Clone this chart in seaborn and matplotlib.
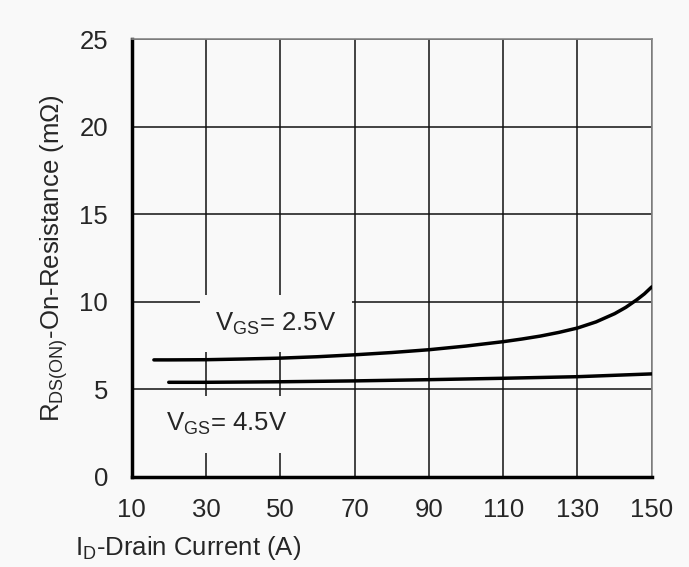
import matplotlib
matplotlib.use("Agg")
import matplotlib.pyplot as plt
import seaborn as sns
import pandas as pd

# Rds(on) vs drain current
id_25 = [16, 20, 30, 40, 50, 60, 70, 80, 90, 100, 110, 115, 120, 125, 130, 135, 140, 143, 146, 148, 150]
rds_25 = [6.68, 6.68, 6.69, 6.73, 6.78, 6.86, 6.97, 7.10, 7.26, 7.47, 7.72, 7.87, 8.04, 8.25, 8.50, 8.85,
          9.32, 9.68, 10.12, 10.45, 10.85]
id_45 = [20, 30, 50, 70, 90, 110, 130, 150]
rds_45 = [5.40, 5.40, 5.43, 5.48, 5.55, 5.63, 5.72, 5.88]

x_ticks = [10, 30, 50, 70, 90, 110, 130, 150]
y_ticks = [0, 5, 10, 15, 20, 25]

sns.set_style("white")
plt.rcParams["font.family"] = ["Liberation Sans", "DejaVu Sans"]
plt.rcParams["mathtext.default"] = "regular"

df = pd.concat([
    pd.DataFrame({"id": id_25, "rds": rds_25, "vgs": "2.5V"}),
    pd.DataFrame({"id": id_45, "rds": rds_45, "vgs": "4.5V"}),
])

bg = "#f9f9f9"
fs = 18.5
fig = plt.figure(figsize=(6.89, 5.67), dpi=100, facecolor=bg)
ax = fig.add_axes([0.191, 0.159, 0.755, 0.772])
ax.set_facecolor(bg)

sns.lineplot(data=df, x="id", y="rds", units="vgs", estimator=None,
             color="black", linewidth=2.5, ax=ax, legend=False, zorder=3)

ax.set_xlim(10, 150)
ax.set_ylim(0, 25)
ax.set_xticks(x_ticks)
ax.set_yticks(y_ticks)
ax.grid(True, color="#111111", linewidth=1.1)
ax.set_axisbelow(True)

for side in ["left", "bottom"]:
    ax.spines[side].set_linewidth(2.5)
    ax.spines[side].set_color("black")
for side in ["top", "right"]:
    ax.spines[side].set_linewidth(1.2)
    ax.spines[side].set_color("#888888")

ax.tick_params(axis="y", direction="in", length=6, width=2, pad=17, labelsize=fs)
ax.tick_params(axis="x", length=0, pad=15, labelsize=fs)

ax.set_ylabel(r"R$_{DS(ON)}$-On-Resistance (m$\Omega$)", fontsize=fs)
ax.yaxis.set_label_coords(-0.119, 0.5)
ax.set_xlabel(r"I$_D$-Drain Current (A)", fontsize=fs, ha="left", va="center")
ax.xaxis.set_label_coords(-0.109, -0.162)

# label boxes sit above the grid but under the curves and spines
box = dict(facecolor=bg, edgecolor="none", pad=11)
ax.text(32.5, 8.75, r"V$_{GS}$= 2.5V", fontsize=fs, va="center", ha="left", bbox=box, zorder=1.5)
ax.text(19.2, 3.0, r"V$_{GS}$= 4.5V", fontsize=fs, va="center", ha="left", bbox=box, zorder=1.5)

fig.savefig("out.png", dpi=100, facecolor=bg)
